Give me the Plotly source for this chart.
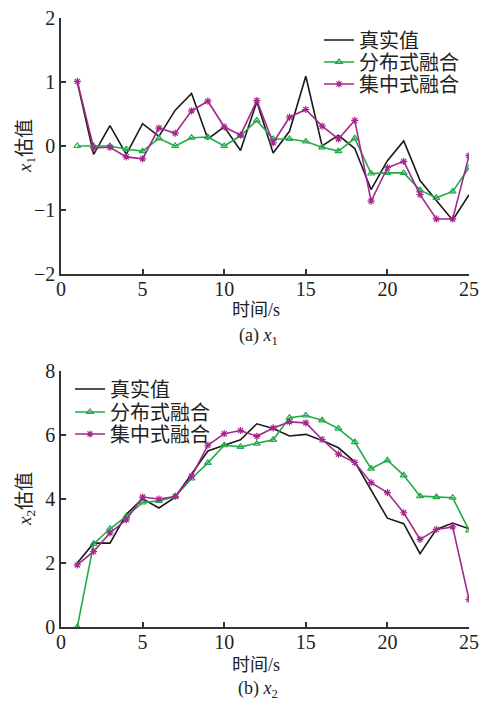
import plotly.graph_objects as go

t = list(range(1, 26))

x1_true = [1.0, -0.13, 0.32, -0.13, 0.35, 0.15, 0.56, 0.82, 0.11, 0.30, -0.07, 0.69, -0.11, 0.23, 1.09,
           0.0, 0.17, -0.04, -0.68, -0.23, 0.08, -0.54, -0.85, -1.16, -0.76]
x1_dist = [0.0, 0.0, 0.0, -0.05, -0.08, 0.12, 0.0, 0.13, 0.14, 0.0, 0.16, 0.40, 0.11, 0.11, 0.07,
           -0.02, -0.08, 0.12, -0.43, -0.42, -0.42, -0.69, -0.81, -0.71, -0.34]
x1_cent = [1.01, -0.03, -0.02, -0.17, -0.20, 0.28, 0.20, 0.55, 0.70, 0.30, 0.17, 0.71, 0.05, 0.45, 0.57,
           0.31, 0.11, 0.40, -0.86, -0.34, -0.24, -0.76, -1.14, -1.14, -0.15]

x2_true = [2.0, 2.62, 2.62, 3.52, 4.01, 3.72, 4.06, 4.79, 5.5, 5.68, 5.85, 6.35, 6.2, 5.97, 6.02,
           5.83, 5.6, 5.16, 4.27, 3.4, 3.23, 2.29, 3.05, 3.25, 3.07]
x2_dist = [0.0, 2.6, 3.07, 3.46, 3.89, 3.94, 4.08, 4.64, 5.13, 5.68, 5.63, 5.73, 5.85, 6.54, 6.61,
           6.46, 6.2, 5.78, 4.95, 5.21, 4.74, 4.09, 4.06, 4.04, 3.02]
x2_cent = [1.94, 2.36, 2.94, 3.35, 4.06, 4.0, 4.08, 4.71, 5.68, 6.04, 6.14, 5.96, 6.22, 6.41, 6.38,
           5.86, 5.4, 5.14, 4.51, 4.2, 3.57, 2.74, 3.05, 3.13, 0.86]

names = ["真实值", "分布式融合", "集中式融合"]
colors = ["#1a1a1a", "#22aa4a", "#a3288c"]
symbols = [None, "triangle-up-open", "asterisk-open"]

FONT = "Liberation Serif, Noto Sans CJK SC, serif"

# pixel geometry helpers (plot area: x 61..469, y 18..627)
def py(p):
    return (627 - p) / 609

def px(p):
    return (p - 61) / 408

fig = go.Figure()

legend_rows_top = [40, 62, 84]
legend_rows_bot = [389, 412, 434]

def add_series(xs, ys_list, xa, ya, legend_ids):
    for name, ys, c, s, lg in zip(names, ys_list, colors, symbols, legend_ids):
        kw = dict(x=xs, y=ys, name=name, line=dict(color=c, width=1.6),
                  xaxis=xa, yaxis=ya, legend=lg)
        if s is None:
            fig.add_trace(go.Scatter(mode="lines", **kw))
        else:
            fig.add_trace(go.Scatter(mode="lines+markers",
                                     marker=dict(symbol=s, size=6, color=c,
                                                 line=dict(color=c, width=1.2)), **kw))

add_series(t, [x1_true, x1_dist, x1_cent], "x", "y", ["legend", "legend2", "legend3"])
add_series(t, [x2_true, x2_dist, x2_cent], "x2", "y2", ["legend4", "legend5", "legend6"])

axis_common = dict(showline=True, linecolor="#333", linewidth=1.5, ticks="inside",
                   ticklen=5, tickwidth=1.5, tickcolor="#333", showgrid=False,
                   zeroline=False, mirror=False, automargin=False,
                   tickfont=dict(family=FONT, size=20, color="#222"))

top_bottom = py(274)
bot_top = py(371)

def leg(xp, yp):
    return dict(x=px(xp), y=py(yp), xanchor="left", yanchor="middle",
                bgcolor="rgba(0,0,0,0)", borderwidth=0,
                font=dict(family=FONT, size=20, color="#222"), itemwidth=30)

layout = dict(
    width=481, height=702,
    margin=dict(l=61, r=12, t=18, b=75, autoexpand=False),
    paper_bgcolor="white", plot_bgcolor="white",
    font=dict(family=FONT, size=18, color="#222"),
    xaxis=dict(domain=[0, 1], range=[0, 25], dtick=5, anchor="y", ticklabelstandoff=-4, **axis_common),
    yaxis=dict(domain=[top_bottom, 1], range=[-2, 2], dtick=1, anchor="x", **axis_common),
    xaxis2=dict(domain=[0, 1], range=[0, 25], dtick=5, anchor="y2", ticklabelstandoff=-4, **axis_common),
    yaxis2=dict(domain=[0, bot_top], range=[0, 8], dtick=2, anchor="x2", **axis_common),
    showlegend=True,
)
layout["legend"] = leg(319, legend_rows_top[0])
layout["legend2"] = leg(319, legend_rows_top[1])
layout["legend3"] = leg(319, legend_rows_top[2])
layout["legend4"] = leg(70, legend_rows_bot[0])
layout["legend5"] = leg(70, legend_rows_bot[1])
layout["legend6"] = leg(70, legend_rows_bot[2])
fig.update_layout(**layout)

annots = [
    dict(text="<i>x</i><sub>1</sub>估值", x=px(26), y=py(146), textangle=-90, size=19),
    dict(text="<i>x</i><sub>2</sub>估值", x=px(26), y=py(499), textangle=-90, size=19),
    dict(text="时间/s", x=px(256), y=py(310), size=18),
    dict(text="时间/s", x=px(256), y=py(665), size=18),
    dict(text="(a) <i>x</i><sub>1</sub>", x=px(258), y=py(336), size=18),
    dict(text="(b) <i>x</i><sub>2</sub>", x=px(258), y=py(689), size=18),
]
for a in annots:
    size = a.pop("size")
    fig.add_annotation(xref="paper", yref="paper", showarrow=False,
                       xanchor="center", yanchor="middle",
                       font=dict(family=FONT, size=size, color="#222"), **a)

fig.write_html("out.html")
